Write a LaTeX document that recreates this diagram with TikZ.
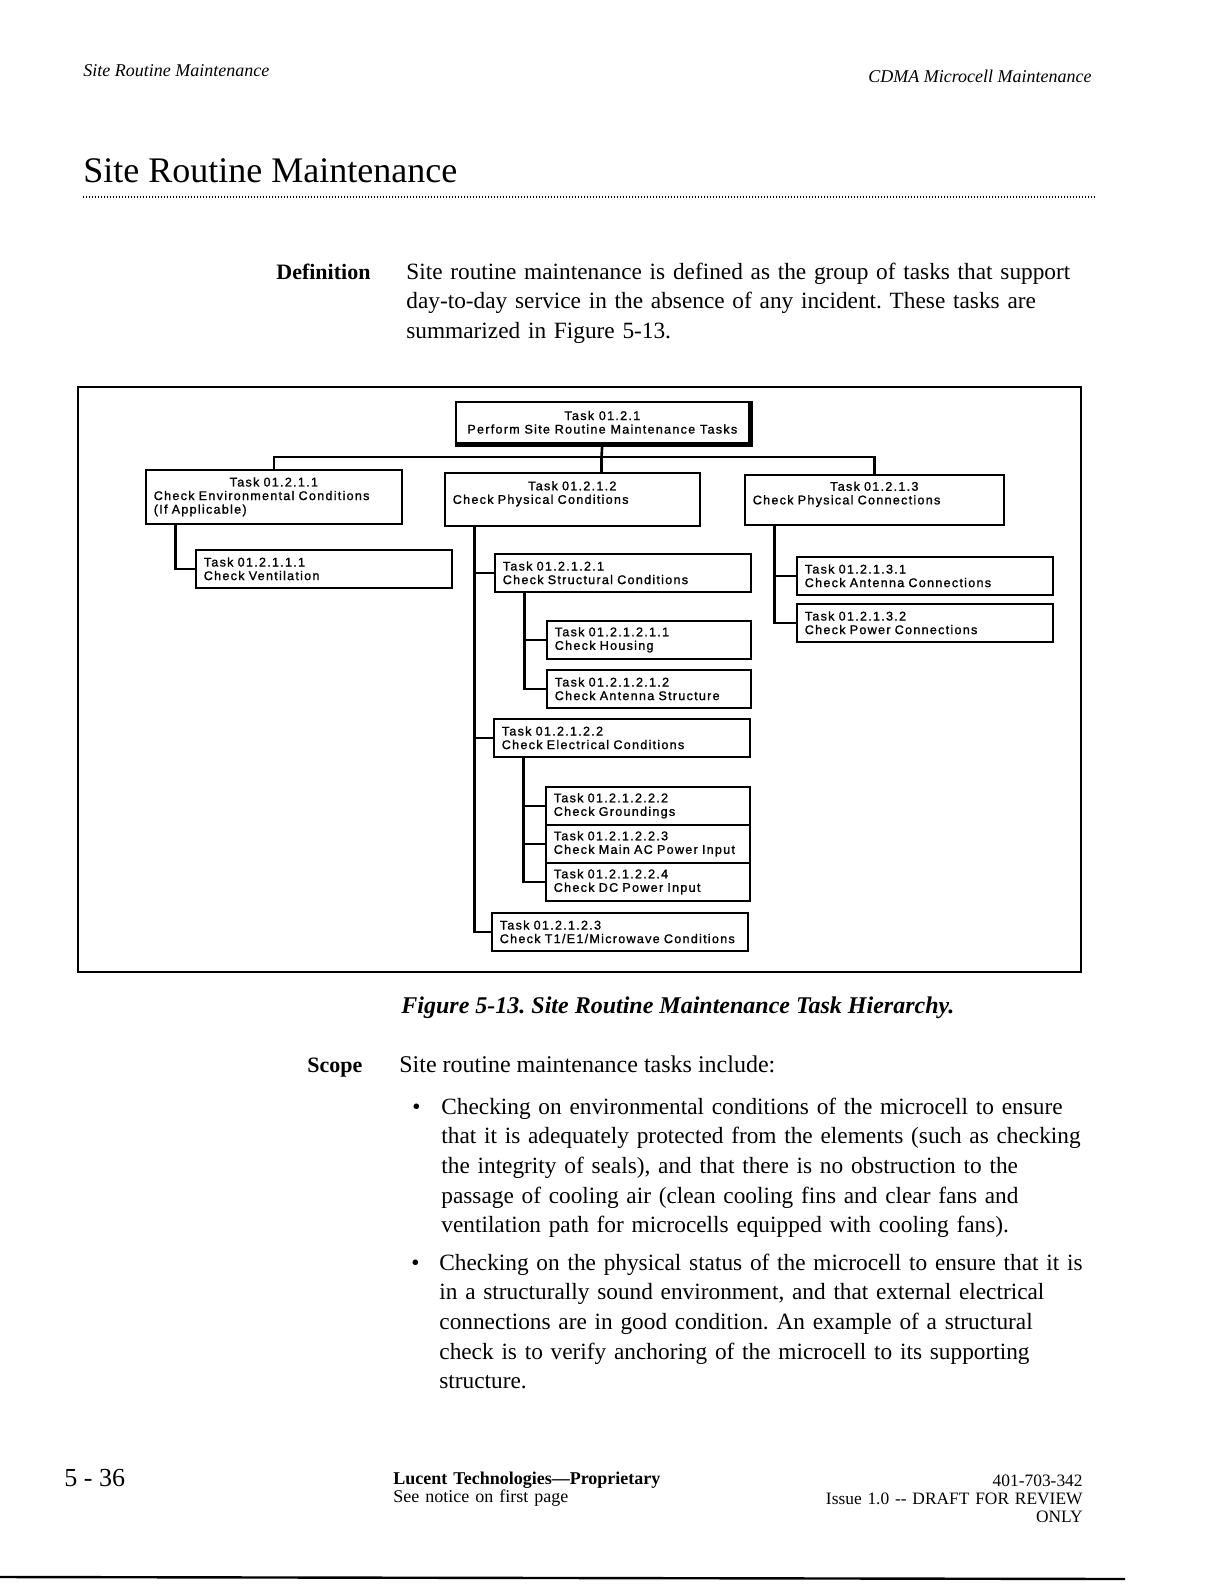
\documentclass[tikz,border=0pt]{standalone}
\usepackage{fontspec}
\setmainfont{Liberation Serif}
\newfontfamily\boxfont[LetterSpace=10, FakeBold=1.2]{Liberation Sans}
\usetikzlibrary{calc, positioning}
\frenchspacing
\tikzset{
  task/.style={draw, line width=0.8pt, anchor=north west, inner xsep=4pt, inner ysep=0pt,
    align=left, text width=#1, minimum height=19pt, font=\boxfont\fontsize{6.3}{6.8}\selectfont},
  task/.default=120pt,
  link/.style={line width=1.3pt},
  frame/.style={line width=1.1pt},
  body/.style={font=\fontsize{11.65}{14.85}\selectfont, inner sep=0pt, align=left},
  side/.style={font=\fontsize{11}{14}\selectfont\bfseries, inner sep=0pt},
  hdr/.style={font=\fontsize{9}{11}\selectfont\itshape, inner sep=0pt},
  foot/.style={font=\fontsize{9}{9}\selectfont, inner sep=0pt},
}

\begin{document}
\begin{tikzpicture}[x=0.5pt, y=-0.5pt]
  \useasboundingbox (0,0) rectangle (1224,1584);
  \fill[white] (0,0) rectangle (1224,1584);
  % page header
  \node[hdr, anchor=base west] (hdleft) at (83,77) {Site Routine Maintenance};
  \node[hdr, anchor=base east] (hdright) at (1092,83) {CDMA Microcell Maintenance};
  \node[anchor=base west, inner sep=0pt, font=\fontsize{18}{22}\selectfont] (title) at (83,182) {Site Routine Maintenance};
  \draw[line width=0.7pt, dash pattern=on 0.6pt off 0.9pt] (83,197) -- (1096,197);
  % definition
  \node[side, anchor=base west] (defl) at (276,279) {Definition};
  \node[body, anchor=base west, text width=350pt] (deftxt) at (406,279)
    {Site routine maintenance is defined as the group of tasks that support\\
     day-to-day service in the absence of any incident. These tasks are\\
     summarized in Figure 5-13.};
  % figure 5-13
  \draw[frame] (78,387) rectangle (1081,972);
  \node[draw, line width=0.8pt, anchor=north west, minimum width=146.5pt, minimum height=20.5pt,
    inner sep=0pt, align=center, font=\boxfont\fontsize{6.3}{6.8}\selectfont] (root) at (455,401)
    {Task 01.2.1\\Perform Site Routine Maintenance Tasks};
  \draw[line width=1.6pt] ([xshift=0.8pt]root.north east) |- ([yshift=-0.8pt]root.south west);
  \node[task=120pt, minimum height=27pt] (A) at (145,469)
    {\hfill Task 01.2.1.1\hfill\null\\Check Environmental Conditions\\(If Applicable)};
  \node[task=119.5pt, minimum height=26.5pt] (B) at (444,472)
    {\hfill Task 01.2.1.2\hfill\null\\Check Physical Conditions\\\mbox{}};
  \node[task=121.5pt, minimum height=25pt] (C) at (744,474)
    {\hfill Task 01.2.1.3\hfill\null\\Check Physical Connections\\\mbox{}};
  \foreach \n/\x/\y/\w/\t in {
      A1/195/549/120pt/{Task 01.2.1.1.1\\Check Ventilation},
      B1/494/553/120pt/{Task 01.2.1.2.1\\Check Structural Conditions},
      B11/546/620/94pt/{Task 01.2.1.2.1.1\\Check Housing},
      B12/546/669/94pt/{Task 01.2.1.2.1.2\\Check Antenna Structure},
      B2/493/718/120pt/{Task 01.2.1.2.2\\Check Electrical Conditions},
      B21/545/786/94pt/{Task 01.2.1.2.2.2\\Check Groundings},
      B22/545/824/94pt/{Task 01.2.1.2.2.3\\Check Main AC Power Input},
      B23/545/862/94pt/{Task 01.2.1.2.2.4\\Check DC Power Input},
      B3/491/912/120pt/{Task 01.2.1.2.3\\Check T1/E1/Microwave Conditions},
      C1/796/556/120pt/{Task 01.2.1.3.1\\Check Antenna Connections},
      C2/796/603/120pt/{Task 01.2.1.3.2\\Check Power Connections}}
    \node[task=\w] (\n) at (\x,\y) {\t};
  % tree lines
  \coordinate (bus) at (601.5,457);
  \draw[link] (root.south) -- (bus);
  \draw[link] (A.north) |- (bus) -| (C.north);
  \draw[link] (bus) -- (bus |- B.north);
  \foreach \p/\c in {A/A1, B/B1, B/B2, B/B3, B1/B11, B1/B12, B2/B21, B2/B22, B2/B23, C/C1, C/C2}
    \draw[link] ($(\p.south west)+(30.5,0)$) |- (\c.west);
  \node[anchor=base west, inner sep=0pt, font=\fontsize{12}{14}\selectfont\bfseries\itshape] (cap) at (401,1013)
    {Figure 5-13. Site Routine Maintenance Task Hierarchy.};
  % scope
  \node[side, anchor=base west] (scopel) at (307,1072) {Scope};
  \node[body, anchor=base west, font=\fontsize{12}{14.85}\selectfont] (scopetxt) at (399,1072) {Site routine maintenance tasks include:};
  \node[body, anchor=base west] (dot1) at (412,1114) {\textbullet};
  \node[body, anchor=base west, text width=340pt] (item1) at (441,1114)
    {Checking on environmental conditions of the microcell to ensure\\
     that it is adequately protected from the elements (such as checking\\
     the integrity of seals), and that there is no obstruction to the\\
     passage of cooling air (clean cooling fins and clear fans and\\
     ventilation path for microcells equipped with cooling fans).};
  \node[body, anchor=base west] (dot2) at (411,1270) {\textbullet};
  \node[body, anchor=base west, text width=340pt] (item2) at (439,1270)
    {Checking on the physical status of the microcell to ensure that it is\\
     in a structurally sound environment, and that external electrical\\
     connections are in good condition. An example of a structural\\
     check is to verify anchoring of the microcell to its supporting\\
     structure.};
  % page footer
  \node[anchor=base west, inner sep=0pt, font=\fontsize{13}{16}\selectfont] (pg) at (64,1486) {5 - 36};
  \node[foot, anchor=base west, text width=150pt, align=left] (prop) at (393,1484)
    {\textbf{Lucent Technologies—Proprietary}\\See notice on first page};
  \node[foot, anchor=base east, text width=150pt, align=right, font=\fontsize{8.7}{9}\selectfont] (docno) at (1083,1486)
    {401-703-342\\Issue 1.0 {-}{-} DRAFT FOR REVIEW\\ONLY};
  \draw[line width=1.2pt] (0,1577) -- (1125,1579);
\end{tikzpicture}
\end{document}
